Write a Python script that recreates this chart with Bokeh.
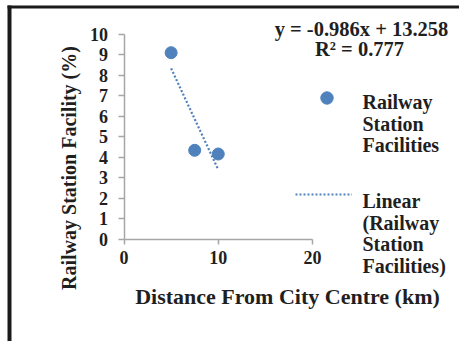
from bokeh.plotting import figure
from bokeh.models import (Range1d, FixedTicker, Legend, LegendItem, Label,
                          BoxAnnotation, LinearAxis)
from bokeh.embed import file_html
from bokeh.resources import INLINE

# Distance from city centre (km) and share of railway station facility (%)
distance_km = [5.0, 7.5, 10.0]
facility_pct = [9.09, 4.34, 4.16]

# Linear trend fitted to the series
trend_slope = -0.986
trend_intercept = 13.258
trend_r2 = 0.777
trend_x = [5.0, 10.0]

x_ticks = [0, 10, 20]
y_ticks = list(range(0, 11))

series_name = ["Railway", "Station", "Facilities"]
trend_name = ["Linear", "(Railway", "Station", "Facilities)"]

W, H = 459, 341
BLUE = "#4f81bd"
INK = "#1f1f1f"
AXIS = "#a6a6a6"
FONT = "Liberation Serif"

# pixel placement of the value axes inside the page
X0_PX, X20_PX = 123.5, 312.0
Y0_PX, Y10_PX = 239.0, 33.5
XS = (X20_PX - X0_PX) / 20.0
YS = (Y0_PX - Y10_PX) / 10.0


def dx(px):
    return (px - X0_PX) / XS


def dy(py):
    return (Y0_PX - py) / YS


p = figure(width=W, height=H, output_backend="svg", toolbar_location=None,
           x_range=Range1d(dx(0), dx(W)), y_range=Range1d(dy(H), dy(0)),
           x_axis_location=None, y_axis_location=None,
           min_border=0)
p.outline_line_color = None
p.background_fill_color = "white"
p.border_fill_color = "white"
p.grid.visible = False

xaxis = LinearAxis(fixed_location=0, bounds=(0, 20),
                   ticker=FixedTicker(ticks=x_ticks))
yaxis = LinearAxis(fixed_location=0, bounds=(0, 10),
                   ticker=FixedTicker(ticks=y_ticks))
for ax in (xaxis, yaxis):
    ax.axis_line_color = AXIS
    ax.axis_line_width = 1.5
    ax.major_tick_line_color = AXIS
    ax.major_tick_line_width = 1.5
    ax.major_tick_in = 0
    ax.minor_tick_line_color = None
    ax.major_label_text_font = FONT
    ax.major_label_text_font_style = "bold"
    ax.major_label_text_font_size = "18px"
    ax.major_label_text_color = INK
xaxis.major_tick_out = 5
yaxis.major_tick_out = 6
xaxis.major_label_standoff = 6
yaxis.major_label_standoff = 10
p.add_layout(xaxis, "below")
p.add_layout(yaxis, "left")

trend_y = [trend_slope * x + trend_intercept for x in trend_x]
trend_r = p.line(trend_x, trend_y, line_color=BLUE, line_width=2.2,
                 line_dash="2 2")
pts_r = p.scatter(distance_km, facility_pct, size=12, marker="circle",
                  fill_color=BLUE, line_color=BLUE)


def legend_box(renderer, loc, gw, gh):
    lg = Legend(items=[LegendItem(label=" ", renderers=[renderer])],
                location=loc, orientation="vertical",
                glyph_width=gw, glyph_height=gh, label_height=gh,
                label_width=0, label_standoff=0, padding=0, margin=0,
                spacing=0, border_line_color=None,
                background_fill_alpha=0, label_text_font_size="1px")
    p.add_layout(lg)


legend_box(pts_r, (310.5, H - 112.5), 31, 31)
legend_box(trend_r, (295, H - 204), 57, 20)


def text_at(txt, px, py, size, align="left", angle=0.0):
    p.add_layout(Label(x=dx(px), y=dy(py), text=txt, text_font=FONT,
                       text_font_style="bold", text_font_size=size,
                       text_color=INK, text_align=align,
                       text_baseline="alphabetic", angle=angle))


# regression equation and fit quality
text_at(f"y = {trend_slope}x + {trend_intercept}", 361, 28.5, "20.5px",
        "center")
text_at(f"R² = {trend_r2}", 359, 48.5, "20.5px", "center")

# legend text
for i, line in enumerate(series_name):
    text_at(line, 362, 101.5 + 21.5 * i, "20px")
for i, line in enumerate(trend_name):
    text_at(line, 362, 200.5 + 21.7 * i, "20px")

# axis titles
text_at("Distance From City Centre (km)", 287, 296, "22px", "center")
text_at("Railway Station Facility (%)", 68.5, 167.5, "20px", "center",
        angle=1.5707963)

# chart frame edges
edge = dict(fill_color="#1a1a1a", fill_alpha=1, line_color=None)
p.add_layout(BoxAnnotation(left=dx(7), right=dx(W), top=dy(5), bottom=dy(8),
                           **edge))
p.add_layout(BoxAnnotation(left=dx(7), right=dx(11), top=dy(5), bottom=dy(H),
                           **edge))

open("out.html", "w").write(file_html(p, INLINE))
